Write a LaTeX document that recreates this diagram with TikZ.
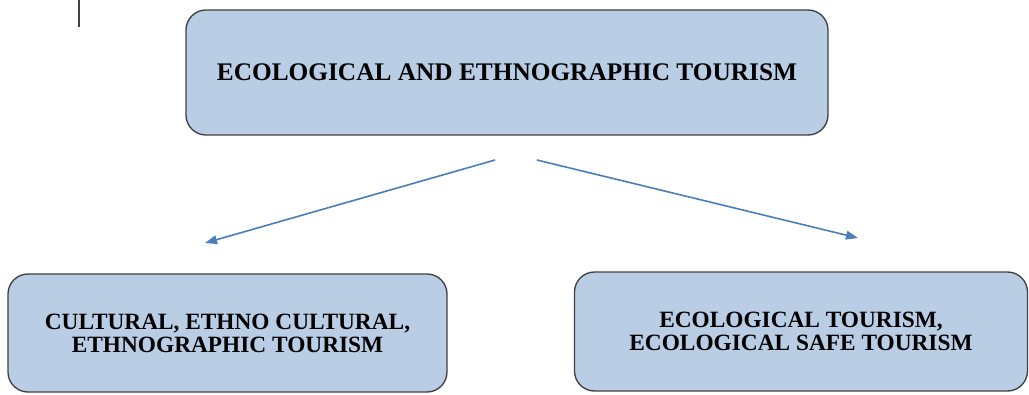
\documentclass[tikz,border=0pt]{standalone}
\usepackage{fontspec}
\setmainfont{Liberation Serif}
\usepackage{xcolor}
\definecolor{boxfill}{HTML}{B9CDE5}
\definecolor{boxline}{gray}{0.25}
\definecolor{arrowblue}{HTML}{4A7EBB}
\usetikzlibrary{arrows.meta, positioning, shapes}

\begin{document}
\begin{tikzpicture}[x=0.75pt, y=-0.75pt,
	topicbox/.style={draw=boxline, fill=boxfill, line width=1pt, rounded corners=15pt,
		align=center, inner sep=0pt, font=\bfseries\fontsize{17.5}{17.3}\selectfont},
	link/.style={arrowblue, line width=1.2pt, -{Triangle[length=9pt, width=6.5pt]}}]

\def \px{0.75pt}

\useasboundingbox (0,0) rectangle (1029,394);

\draw[boxline, line width=1.2pt] (79,0) -- (79,27); % cursor mark

\node[topicbox, minimum width=642*\px, minimum height=125*\px,
	font=\bfseries\fontsize{19}{19}\selectfont] (main) at (507,72.5)
	{ECOLOGICAL AND ETHNOGRAPHIC TOURISM};
\node[topicbox, minimum width=439*\px, minimum height=118*\px] (ethno) at (227.5,333)
	{CULTURAL, ETHNO CULTURAL,\\ETHNOGRAPHIC TOURISM};
\node[topicbox, minimum width=453*\px, minimum height=119*\px] (eco) at (801,331.5)
	{ECOLOGICAL TOURISM,\\ECOLOGICAL SAFE TOURISM};

% free arrow ends, as in the picture
\coordinate (ethno from) at (495,160);
\coordinate (ethno to)   at (205,243);
\coordinate (eco from)   at (537,160);
\coordinate (eco to)     at (858,238);

\draw[link] (ethno from) -- (ethno to);
\draw[link] (eco from) -- (eco to);

\end{tikzpicture}
\end{document}
